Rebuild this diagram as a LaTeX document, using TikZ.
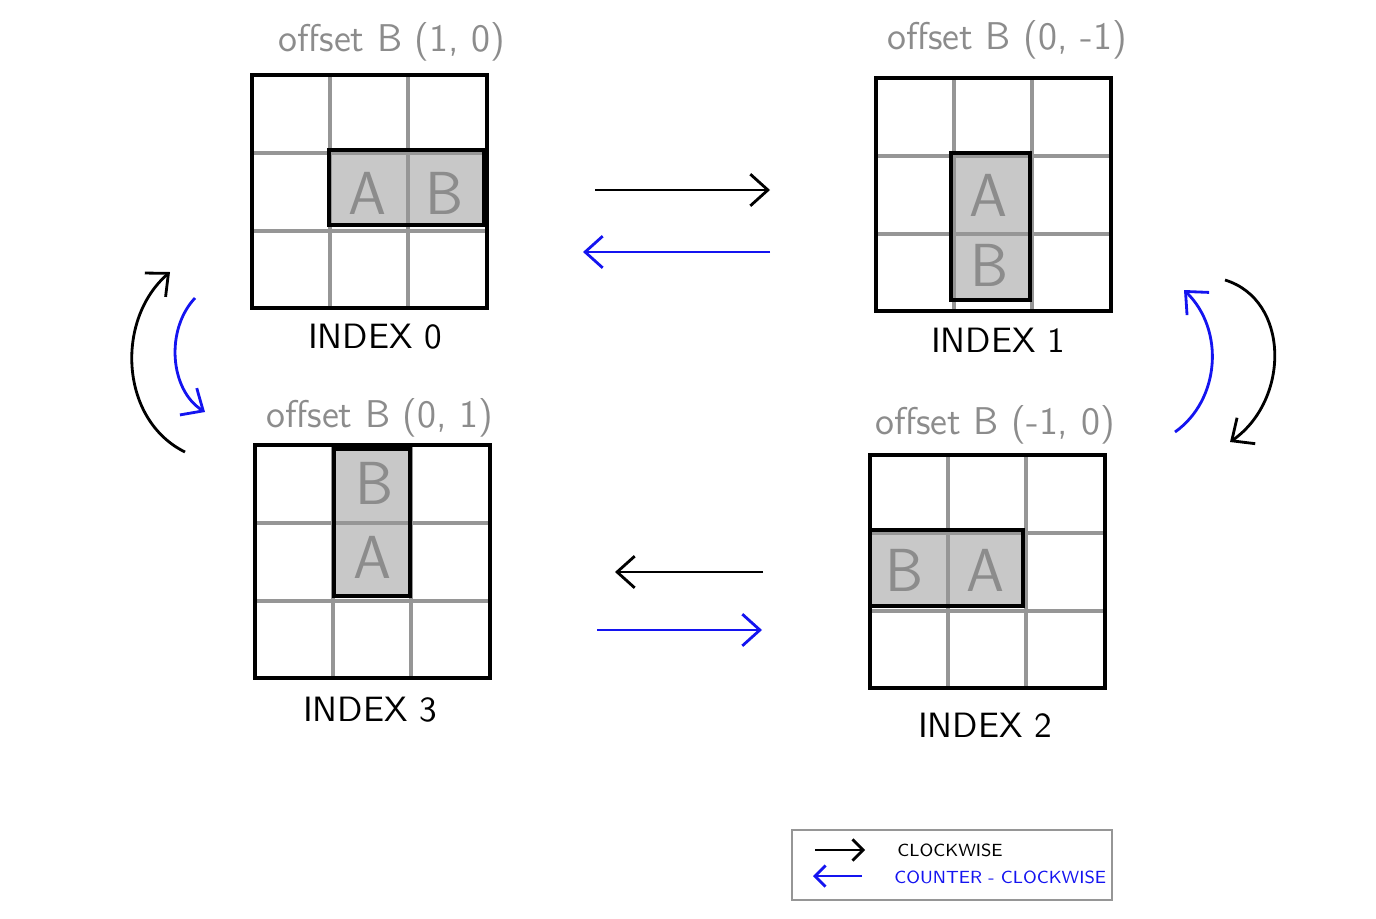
\documentclass[tikz,border=0pt]{standalone}
\usepackage{amsmath}
\usetikzlibrary{calc,arrows.meta}
\definecolor{gridgray}{RGB}{150,150,150}
\definecolor{cellgray}{RGB}{200,200,200}
\definecolor{labelgray}{RGB}{140,140,140}
\definecolor{cwblue}{RGB}{20,20,240}

\begin{document}
\begin{tikzpicture}[x=0.01cm,y=-0.01cm,>={Straight Barb[length=5pt,width=9pt]},
		offlabel/.style={text=labelgray,font=\sffamily\fontsize{11}{13}\selectfont},
		idxlabel/.style={font=\sffamily},
		letter/.style={text=labelgray,font=\sffamily\LARGE},
		legtext/.style={font=\sffamily\tiny,anchor=west}]
			\useasboundingbox (0,0) rectangle (1376,918);
			% highlighted pair of cells
			\fill[cellgray] (329,150) rectangle (484,225);
			\fill[cellgray] (951,153) rectangle (1030,300);
			\fill[cellgray] (870,530) rectangle (1023,606);
			\fill[cellgray] (334,449) rectangle (410,596);
			% the four 3x3 grids
			\foreach \gx/\gy in {252/75,876/78,870/455,255/445}{
				\foreach \i in {1,2}{
					\draw[gridgray,line width=1pt] (\gx+78*\i,\gy)--(\gx+78*\i,\gy+233);
					\draw[gridgray,line width=1pt] (\gx,\gy+78*\i)--(\gx+235,\gy+78*\i);
				}
				\draw[line width=1.2pt] (\gx,\gy) rectangle (\gx+235,\gy+233);
			}
			\draw[line width=1.3pt] (329,150) rectangle (484,225);
			\draw[line width=1.3pt] (951,153) rectangle (1030,300);
			\draw[line width=1.3pt] (870,530) rectangle (1023,606);
			\draw[line width=1.3pt] (334,449) rectangle (410,596);
			% cell letters
			\node[letter] (a0) at (367,193) {A};
			\node[letter] (b0) at (445,193) {B};
			\node[letter] (a1) at (988,195) {A};
			\node[letter] (b1) at (990,265) {B};
			\node[letter] (b2) at (905,570) {B};
			\node[letter] (a2) at (985,570) {A};
			\node[letter] (b3) at (375,483) {B};
			\node[letter] (a3) at (372,557) {A};
			% labels
			\node[offlabel] (off0) at (392,42) {offset B (1, 0)};
			\node[offlabel] (off1) at (1007,40) {offset B (0, -1)};
			\node[offlabel] (off2) at (995,425) {offset B (-1, 0)};
			\node[offlabel] (off3) at (380,418) {offset B (0, 1)};
			\node[idxlabel] (idx0) at (375,337) {INDEX 0};
			\node[idxlabel] (idx1) at (998,340) {INDEX 1};
			\node[idxlabel] (idx2) at (985,725) {INDEX 2};
			\node[idxlabel] (idx3) at (370,710) {INDEX 3};
			% straight arrows
			\coordinate (t1) at (595,190); \coordinate (t2) at (770,190);
			\coordinate (t3) at (770,252); \coordinate (t4) at (583,252);
			\coordinate (u1) at (763,572); \coordinate (u2) at (615,572);
			\coordinate (u3) at (597,630); \coordinate (u4) at (762,630);
			\draw[->,thick] (t1)--(t2);
			\draw[->,thick,cwblue] (t3)--(t4);
			\draw[->,thick] (u1)--(u2);
			\draw[->,thick,cwblue] (u3)--(u4);
			% curved arrows
			\coordinate (l1) at (185,452); \coordinate (l2) at (170,272);
			\coordinate (l3) at (195,298); \coordinate (l4) at (205,412);
			\coordinate (r1) at (1175,432); \coordinate (r2) at (1184,290);
			\coordinate (r3) at (1225,280); \coordinate (r4) at (1230,442);
			\draw[->,thick] (l1) .. controls (120,420) and (115,320) .. (l2);
			\draw[->,thick,cwblue] (l3) .. controls (165,330) and (170,390) .. (l4);
			\draw[->,thick,cwblue] (r1) .. controls (1220,400) and (1225,330) .. (r2);
			\draw[->,thick] (r3) .. controls (1290,300) and (1290,400) .. (r4);
			% legend
			\draw[gridgray,thick] (792,830) rectangle (1112,900);
			\coordinate (k1) at (815,850); \coordinate (k2) at (865,850);
			\coordinate (k3) at (862,876); \coordinate (k4) at (813,876);
			\draw[-{Straight Barb[length=3pt,width=6pt]},thick] (k1)--(k2);
			\draw[-{Straight Barb[length=3pt,width=6pt]},thick,cwblue] (k3)--(k4);
			\node[legtext] (cw) at (885,850) {CLOCKWISE};
			\node[legtext,text=cwblue] (ccw) at (882,877) {COUNTER - CLOCKWISE};
		\end{tikzpicture}
\end{document}
